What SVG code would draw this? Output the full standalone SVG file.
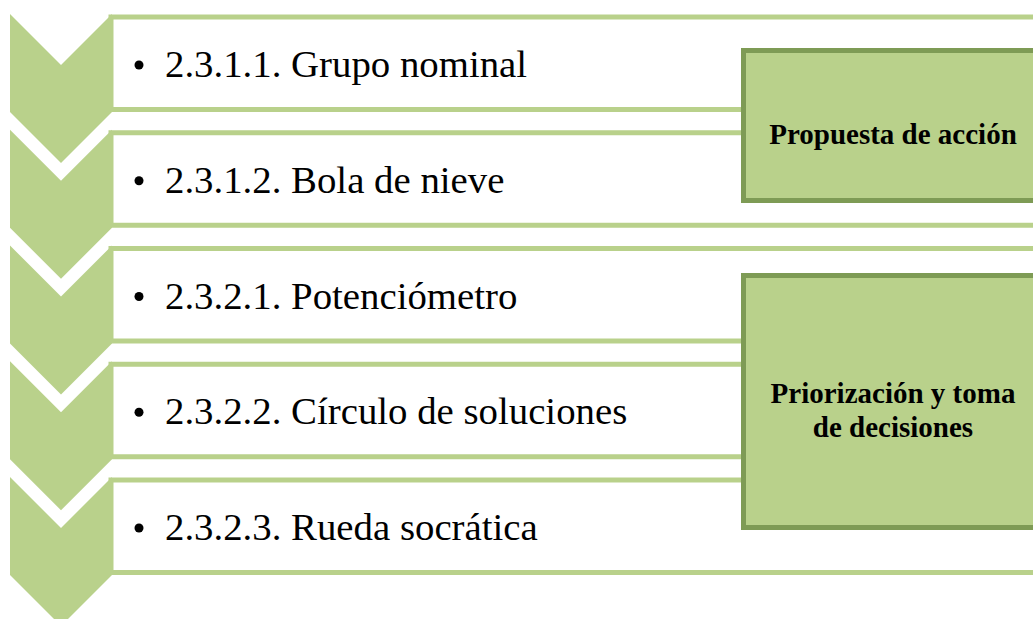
<svg xmlns="http://www.w3.org/2000/svg" width="1033" height="619" viewBox="0 0 1033 619">
<style>
.chev{fill:#B9D18B;}
.row{fill:#FFFFFF;stroke:#B9D18B;stroke-width:5;}
.item{font-family:"Liberation Serif","Times New Roman",serif;font-size:38.8px;fill:#000;}
.bul{fill:#000;}
.box{fill:#B9D18B;stroke:#7E9B55;stroke-width:5;}
.lbl{font-family:"Liberation Serif","Times New Roman",serif;font-size:29px;font-weight:bold;fill:#000;text-anchor:middle;}
</style>
<rect width="1033" height="619" fill="#FFFFFF"/>
<g id="row1">
<rect class="row" x="111" y="17" width="940" height="92.5"/>
<path class="chev" d="M10,14 L61,65 L112,14 L112,112 L61,163 L10,112 Z"/>
<circle class="bul" cx="139" cy="65" r="4.5"/>
<text class="item" x="165" y="77">2.3.1.1. Grupo nominal</text>
</g>
<g id="row2">
<rect class="row" x="111" y="132.75" width="940" height="92.5"/>
<path class="chev" d="M10,129.75 L61,180.75 L112,129.75 L112,227.75 L61,278.75 L10,227.75 Z"/>
<circle class="bul" cx="139" cy="180.75" r="4.5"/>
<text class="item" x="165" y="192.75">2.3.1.2. Bola de nieve</text>
</g>
<g id="row3">
<rect class="row" x="111" y="248.5" width="940" height="92.5"/>
<path class="chev" d="M10,245.5 L61,296.5 L112,245.5 L112,343.5 L61,394.5 L10,343.5 Z"/>
<circle class="bul" cx="139" cy="296.5" r="4.5"/>
<text class="item" x="165" y="308.5">2.3.2.1. Potenciómetro</text>
</g>
<g id="row4">
<rect class="row" x="111" y="364.25" width="940" height="92.5"/>
<path class="chev" d="M10,361.25 L61,412.25 L112,361.25 L112,459.25 L61,510.25 L10,459.25 Z"/>
<circle class="bul" cx="139" cy="412.25" r="4.5"/>
<text class="item" x="165" y="424.25">2.3.2.2. Círculo de soluciones</text>
</g>
<g id="row5">
<rect class="row" x="111" y="480" width="940" height="92.5"/>
<path class="chev" d="M10,477 L61,528 L112,477 L112,575 L61,626 L10,575 Z"/>
<circle class="bul" cx="139" cy="528" r="4.5"/>
<text class="item" x="165" y="540">2.3.2.3. Rueda socrática</text>
</g>
<g id="box1">
<rect class="box" x="743.5" y="50.5" width="310" height="150"/>
<text class="lbl" x="893" y="144">Propuesta de acción</text>
</g>
<g id="box2">
<rect class="box" x="743.5" y="275.5" width="310" height="252"/>
<text class="lbl" x="893" y="403">Priorización y toma</text>
<text class="lbl" x="893" y="436.5">de decisiones</text>
</g>
<g id="connectors"></g>
</svg>
